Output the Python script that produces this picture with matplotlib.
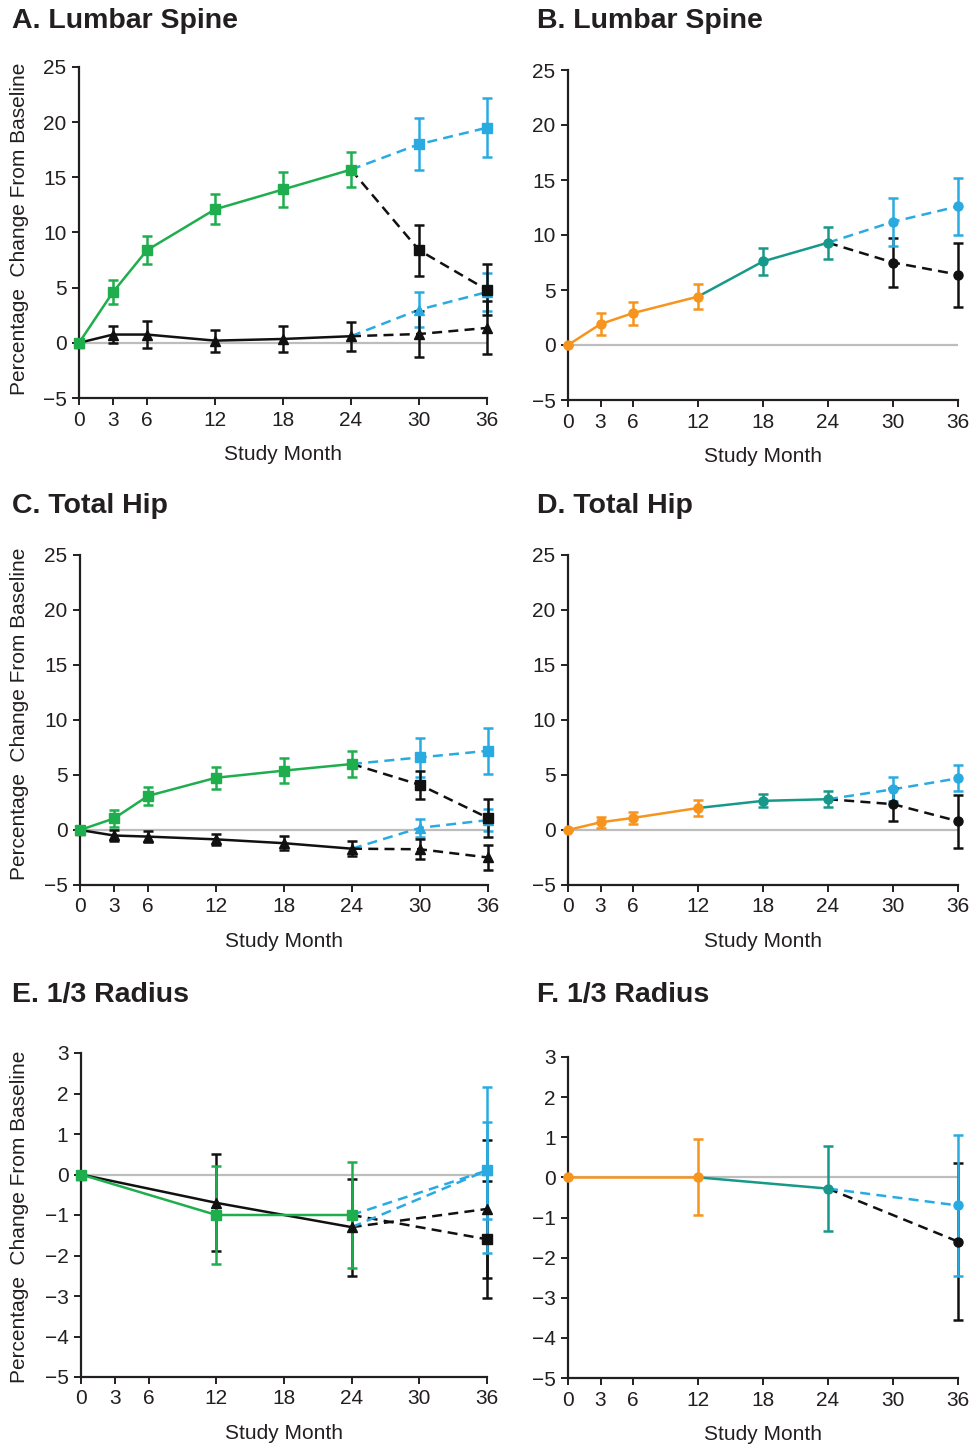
import matplotlib
matplotlib.use("Agg")
import matplotlib.pyplot as plt

plt.rcParams['font.family'] = ['Liberation Sans', 'DejaVu Sans']

# study months
m_full = [0, 3, 6, 12, 18, 24]
m_ext = [24, 30, 36]
m_rad = [0, 12, 24]
m_rad_ext = [24, 36]
m_orange = [0, 3, 6, 12]
m_teal = [12, 18, 24]
m_orange_r = [0, 12]
m_teal_r = [12, 24]

x_ticks = [0, 3, 6, 12, 18, 24, 30, 36]

# A. Lumbar spine (left column)
a_green = [0, 4.6, 8.4, 12.1, 13.9, 15.7]
a_green_err = [0, 1.1, 1.3, 1.35, 1.6, 1.6]
a_tri = [0, 0.75, 0.75, 0.2, 0.35, 0.6]
a_tri_err = [0, 0.8, 1.2, 1.0, 1.2, 1.3]
a_sq_blue = [15.7, 18.0, 19.5]
a_sq_blue_err = [0, 2.35, 2.7]
a_sq_black = [15.7, 8.4, 4.8]
a_sq_black_err = [0, 2.3, 2.3]
a_tri_blue = [0.6, 3.0, 4.6]
a_tri_blue_err = [0, 1.6, 1.7]
a_tri_black = [0.6, 0.8, 1.35]
a_tri_black_err = [0, 2.1, 2.4]

# B. Lumbar spine (right column)
b_orange = [0, 1.9, 2.9, 4.4]
b_orange_err = [0, 1.0, 1.05, 1.15]
b_teal = [4.4, 7.6, 9.3]
b_teal_err = [0, 1.2, 1.45]
b_blue = [9.3, 11.2, 12.6]
b_blue_err = [0, 2.2, 2.6]
b_black = [9.3, 7.5, 6.4]
b_black_err = [0, 2.2, 2.9]

# C. Total hip (left column)
c_green = [0, 1.05, 3.1, 4.75, 5.4, 6.0]
c_green_err = [0, 0.75, 0.8, 1.0, 1.1, 1.15]
c_tri = [0, -0.5, -0.6, -0.85, -1.2, -1.7]
c_tri_err = [0, 0.5, 0.5, 0.5, 0.65, 0.7]
c_sq_blue = [6.0, 6.6, 7.2]
c_sq_blue_err = [0, 1.8, 2.1]
c_sq_black = [6.0, 4.1, 1.1]
c_sq_black_err = [0, 1.25, 1.7]
c_tri_blue = [-1.7, 0.2, 0.9]
c_tri_blue_err = [0, 0.8, 1.0]
c_tri_black = [-1.7, -1.75, -2.5]
c_tri_black_err = [0, 0.9, 1.1]

# D. Total hip (right column)
d_orange = [0, 0.7, 1.1, 2.0]
d_orange_err = [0, 0.5, 0.55, 0.7]
d_teal = [2.0, 2.65, 2.8]
d_teal_err = [0, 0.6, 0.7]
d_blue = [2.8, 3.7, 4.7]
d_blue_err = [0, 1.1, 1.2]
d_black = [2.8, 2.35, 0.8]
d_black_err = [0, 1.5, 2.4]

# E. 1/3 radius (left column)
e_green = [0, -1.0, -1.0]
e_green_err = [0, 1.2, 1.3]
e_tri = [0, -0.7, -1.3]
e_tri_err = [0, 1.2, 1.2]
e_sq_blue = [-1.0, 0.1]
e_sq_blue_err = [0, 2.05]
e_sq_black = [-1.0, -1.6]
e_sq_black_err = [0, 1.45]
e_tri_blue = [-1.3, 0.1]
e_tri_blue_err = [0, 1.2]
e_tri_black = [-1.3, -0.85]
e_tri_black_err = [0, 1.7]

# F. 1/3 radius (right column)
f_orange = [0, 0]
f_orange_err = [0, 0.95]
f_teal = [0, -0.28]
f_teal_err = [0, 1.05]
f_blue = [-0.28, -0.7]
f_blue_err = [0, 1.75]
f_black = [-0.28, -1.6]
f_black_err = [0, 1.95]

GREEN = '#1fae4d'
BLUE = '#29abe2'
ORANGE = '#f7941d'
TEAL = '#16998a'
BLACK = '#111111'
TXT = '#231f20'
FS = 15

W, H = 970, 1445
fig = plt.figure(figsize=(W / 100, H / 100), dpi=100)


def make_ax(l, r, t, b, ylim, yticks):
    ax = fig.add_axes([l / W, 1 - b / H, (r - l) / W, (b - t) / H])
    ax.set_xlim(0, 36)
    ax.set_ylim(*ylim)
    ax.set_xticks(x_ticks)
    ax.set_yticks(yticks)
    ax.set_yticklabels([str(v).replace('-', '\u2212') for v in yticks])
    for s in ['top', 'right']:
        ax.spines[s].set_visible(False)
    for s in ['left', 'bottom']:
        ax.spines[s].set_linewidth(1.6)
        ax.spines[s].set_color(TXT)
    ax.tick_params(direction='out', length=5, width=1.4, colors=TXT,
                   labelsize=FS, pad=4)
    ax.axhline(0, color='#bdbdbd', lw=1.6, zorder=1)
    ax.set_xlabel('Study Month', fontsize=FS, color=TXT, labelpad=11)
    return ax


def series(ax, x, y, err, color, marker, ls, ms=7):
    ax.plot(x, y, color=color, lw=1.8, ls=ls, zorder=3, clip_on=False)
    # skip the anchor point that is shared with the previous segment
    start = 1 if err[0] == 0 and len(x) > 1 and x[0] != 0 else 0
    ax.errorbar(x[start:], y[start:], yerr=err[start:], fmt=marker, color=color,
                ms=ms, elinewidth=1.8, capsize=3.5, capthick=1.8, zorder=4,
                clip_on=False)


dash = (0, (4, 2.5))

# panel A
ax = make_ax(79, 487, 67, 398, (-5, 25), [-5, 0, 5, 10, 15, 20, 25])
series(ax, m_full, a_tri, a_tri_err, BLACK, '^', '-', 6.5)
series(ax, m_ext, a_tri_blue, a_tri_blue_err, BLUE, '^', dash, 6.5)
series(ax, m_ext, a_tri_black, a_tri_black_err, BLACK, '^', dash, 6.5)
series(ax, m_ext, a_sq_blue, a_sq_blue_err, BLUE, 's', dash)
series(ax, m_ext, a_sq_black, a_sq_black_err, BLACK, 's', dash)
series(ax, m_full, a_green, a_green_err, GREEN, 's', '-')

# panel B
ax = make_ax(568, 958, 70, 400, (-5, 25), [-5, 0, 5, 10, 15, 20, 25])
series(ax, m_ext, b_black, b_black_err, BLACK, 'o', dash, 6.5)
series(ax, m_ext, b_blue, b_blue_err, BLUE, 'o', dash, 6.5)
series(ax, m_teal, b_teal, b_teal_err, TEAL, 'o', '-', 6.5)
series(ax, m_orange, b_orange, b_orange_err, ORANGE, 'o', '-', 6.5)

# panel C
ax = make_ax(80, 488, 555, 885, (-5, 25), [-5, 0, 5, 10, 15, 20, 25])
series(ax, m_full, c_tri, c_tri_err, BLACK, '^', '-', 6.5)
series(ax, m_ext, c_tri_blue, c_tri_blue_err, BLUE, '^', dash, 6.5)
series(ax, m_ext, c_tri_black, c_tri_black_err, BLACK, '^', dash, 6.5)
series(ax, m_ext, c_sq_blue, c_sq_blue_err, BLUE, 's', dash)
series(ax, m_ext, c_sq_black, c_sq_black_err, BLACK, 's', dash)
series(ax, m_full, c_green, c_green_err, GREEN, 's', '-')

# panel D
ax = make_ax(568, 958, 555, 885, (-5, 25), [-5, 0, 5, 10, 15, 20, 25])
series(ax, m_ext, d_black, d_black_err, BLACK, 'o', dash, 6.5)
series(ax, m_ext, d_blue, d_blue_err, BLUE, 'o', dash, 6.5)
series(ax, m_teal, d_teal, d_teal_err, TEAL, 'o', '-', 6.5)
series(ax, m_orange, d_orange, d_orange_err, ORANGE, 'o', '-', 6.5)

# panel E
ax = make_ax(81, 487, 1053, 1377, (-5, 3), [-5, -4, -3, -2, -1, 0, 1, 2, 3])
series(ax, m_rad_ext, e_sq_black, e_sq_black_err, BLACK, 's', dash)
series(ax, m_rad_ext, e_tri_black, e_tri_black_err, BLACK, '^', dash, 6.5)
series(ax, m_rad_ext, e_tri_blue, e_tri_blue_err, BLUE, '^', dash, 6.5)
series(ax, m_rad_ext, e_sq_blue, e_sq_blue_err, BLUE, 's', dash)
series(ax, m_rad, e_tri, e_tri_err, BLACK, '^', '-', 6.5)
series(ax, m_rad, e_green, e_green_err, GREEN, 's', '-')

# panel F
ax = make_ax(568, 958, 1057, 1378, (-5, 3), [-5, -4, -3, -2, -1, 0, 1, 2, 3])
series(ax, m_rad_ext, f_black, f_black_err, BLACK, 'o', dash, 6.5)
series(ax, m_rad_ext, f_blue, f_blue_err, BLUE, 'o', dash, 6.5)
series(ax, m_teal_r, f_teal, f_teal_err, TEAL, 'o', '-', 6.5)
series(ax, m_orange_r, f_orange, f_orange_err, ORANGE, 'o', '-', 6.5)

# panel titles
titles = [('A. Lumbar Spine', 12, 21), ('B. Lumbar Spine', 537, 21),
          ('C. Total Hip', 12, 506), ('D. Total Hip', 537, 506),
          ('E. 1/3 Radius', 12, 995), ('F. 1/3 Radius', 537, 995)]
for txt, px, py in titles:
    fig.text(px / W, 1 - py / H, txt, fontsize=20.5, fontweight='bold',
             color=TXT, ha='left', va='center')

# y-axis labels for the left column
for cy in [229, 714, 1217]:
    fig.text(20 / W, 1 - cy / H, 'Percentage  Change From Baseline',
             rotation=90, fontsize=FS, color=TXT, ha='center', va='center')

fig.savefig('out.png', dpi=100, facecolor='white')
